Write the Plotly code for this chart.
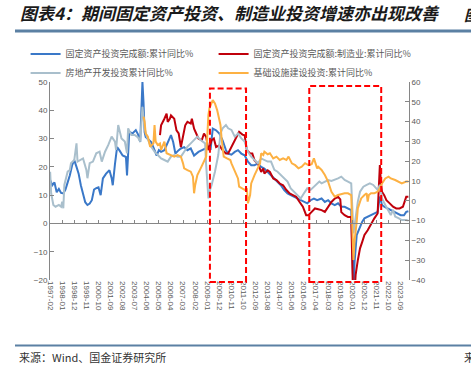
import plotly.graph_objects as go

# ---------------- data ----------------
tick_labels = ["1997-02", "1998-01", "1998-12", "1999-11", "2000-10", "2001-09", "2002-08",
               "2003-07", "2004-06", "2005-05", "2006-04", "2007-03", "2008-02", "2009-01",
               "2009-12", "2010-11", "2011-10", "2012-09", "2013-08", "2014-07", "2015-06",
               "2016-05", "2017-04", "2018-03", "2019-02", "2020-01", "2020-12", "2021-11",
               "2022-10", "2023-09"]

fai_dates = ["1997-02", "1997-04", "1997-06", "1997-08", "1997-10", "1997-12", "1998-02", "1998-04",
             "1998-06", "1998-08", "1998-10", "1998-12", "1999-02", "1999-04", "1999-06", "1999-08",
             "1999-10", "1999-12", "2000-02", "2000-04", "2000-06", "2000-08", "2000-10", "2000-12",
             "2001-02", "2001-05", "2001-08", "2001-10", "2001-11", "2002-01", "2002-03", "2002-05",
             "2002-08", "2002-11", "2002-12", "2003-02", "2003-05", "2003-08", "2003-10", "2003-12",
             "2004-02", "2004-03", "2004-04", "2004-05", "2004-07", "2004-10", "2005-01", "2005-03",
             "2005-05", "2005-07", "2005-10", "2006-01", "2006-04", "2006-06", "2006-08", "2006-11",
             "2007-01", "2007-04", "2007-07", "2007-10", "2008-01", "2008-05", "2008-08", "2008-11",
             "2009-02", "2009-04", "2009-06", "2009-09", "2009-12", "2010-03", "2010-06", "2010-08",
             "2010-11", "2011-02", "2011-05", "2011-08", "2011-11", "2012-02", "2012-05", "2012-08",
             "2012-11", "2013-02", "2013-05", "2013-08", "2013-11", "2014-02", "2014-05", "2014-08",
             "2014-11", "2015-02", "2015-05", "2015-08", "2015-11", "2016-02", "2016-05", "2016-08",
             "2016-11", "2017-02", "2017-05", "2017-09", "2017-12", "2018-03", "2018-06", "2018-09",
             "2018-12", "2019-03", "2019-06", "2019-09", "2019-12", "2020-02", "2020-03", "2020-05",
             "2020-08", "2020-10", "2020-12", "2021-03", "2021-06", "2021-09", "2021-12", "2022-02",
             "2022-04", "2022-06", "2022-09", "2022-12", "2023-03", "2023-06", "2023-09", "2023-12",
             "2024-02", "2024-04"]
fai_values = [15.3, 13.5, 14.5, 11.0, 12.2, 10.8, 10.6, 12.0,
              14.5, 17.0, 20.5, 22.4, 20.0, 17.6, 13.5, 10.0,
              7.5, 6.5, 7.0, 8.2, 12.0, 12.5, 12.8, 10.0,
              15.9, 17.6, 18.8, 16.0, 13.5, 21.0, 27.0, 25.9,
              24.0, 23.5, 17.0, 32.4, 31.8, 33.0, 31.5, 28.8,
              50.0, 42.9, 32.3, 30.6, 30.0, 28.8, 25.9, 24.0,
              25.9, 25.3, 25.9, 28.8, 31.2, 28.8, 24.7, 25.9,
              26.5, 27.0, 25.9, 26.5, 24.0, 25.3, 25.9, 26.5,
              27.0, 26.0, 33.5, 32.9, 31.8, 29.4, 25.9, 24.7,
              24.3, 25.3, 25.9, 24.7, 24.1, 21.8, 20.6, 20.6,
              21.2, 20.0, 19.4, 18.2, 17.0, 15.9, 14.7, 13.5,
              11.8, 10.6, 10.0, 9.4, 8.8, 8.2, 7.6, 7.1,
              8.2, 8.8, 8.2, 8.8, 7.6, 8.2, 7.1, 6.5,
              7.1, 5.9, 5.9, 5.3, 4.7, -24.5, -14.0, -4.1,
              -1.2, 0.6, 1.8, 2.3, 2.9, 3.5, 4.1, 9.5,
              6.5, 5.9, 5.3, 4.7, 4.1, 3.5, 2.9, 2.9,
              4.1, 4.3]

mfg_dates = ["2005-06", "2005-07", "2005-10", "2005-12", "2006-01", "2006-03", "2006-04", "2006-07",
             "2006-09", "2006-11", "2007-01", "2007-03", "2007-05", "2007-07", "2007-10", "2007-11",
             "2008-01", "2008-03", "2008-05", "2008-08", "2008-10", "2008-12", "2009-02", "2009-05",
             "2009-07", "2009-09", "2009-12", "2010-03", "2010-06", "2010-08", "2010-11", "2011-02",
             "2011-05", "2011-06", "2011-09", "2011-11", "2012-01", "2012-04", "2012-06", "2012-08",
             "2012-11", "2013-02", "2013-04", "2013-05", "2013-08", "2013-10", "2014-01", "2014-04",
             "2014-07", "2014-10", "2015-01", "2015-04", "2015-07", "2015-10", "2016-01", "2016-04",
             "2016-07", "2016-09", "2016-12", "2017-03", "2017-06", "2017-09", "2017-12", "2018-03",
             "2018-06", "2018-09", "2018-12", "2019-02", "2019-03", "2019-06", "2019-09", "2019-12",
             "2020-02", "2020-03", "2020-04", "2020-06", "2020-08", "2020-10", "2020-12", "2021-03",
             "2021-06", "2021-09", "2021-12", "2022-02", "2022-03", "2022-04", "2022-06", "2022-08",
             "2022-11", "2023-02", "2023-05", "2023-08", "2023-11", "2024-02", "2024-04"]
mfg_values = [31.2, 34.7, 37.0, 38.8, 35.9, 37.0, 38.2, 37.0,
              32.9, 31.8, 27.0, 30.6, 34.7, 35.9, 35.3, 37.0,
              33.5, 31.8, 30.0, 29.4, 31.8, 30.6, 25.9, 29.4,
              30.0, 27.0, 27.6, 25.9, 24.7, 24.7, 27.0, 29.4,
              31.8, 32.4, 31.4, 31.2, 25.9, 24.7, 24.7, 22.3,
              21.2, 18.2, 19.4, 17.6, 18.8, 18.2, 15.9, 15.3,
              14.1, 13.5, 11.8, 10.6, 10.0, 9.4, 7.6, 5.9,
              2.9, 2.9, 4.1, 5.3, 5.0, 4.7, 4.1, 5.9,
              7.6, 8.8, 9.4, 8.5, 4.0, 2.9, 2.3, 2.3,
              -31.5, -25.0, -18.2, -13.0, -8.8, -6.5, -4.1, -2.4,
              0.0, 1.8, 3.5, 20.6, 14.7, 11.2, 10.0, 8.2,
              7.1, 5.9, 5.3, 5.3, 5.9, 9.4, 9.4]

re_dates = ["1997-02", "1997-03", "1997-05", "1997-07", "1997-10", "1997-12", "1998-01", "1998-02",
            "1998-03", "1998-05", "1998-06", "1998-08", "1998-09", "1998-12", "1999-02", "1999-03",
            "1999-05", "1999-08", "1999-11", "1999-12", "2000-02", "2000-05", "2000-08", "2000-11",
            "2001-01", "2001-04", "2001-07", "2001-10", "2002-01", "2002-02", "2002-04", "2002-07",
            "2002-10", "2002-12", "2003-01", "2003-04", "2003-07", "2003-10", "2003-12", "2004-02",
            "2004-04", "2004-06", "2004-09", "2005-01", "2005-04", "2005-07", "2005-10", "2006-01",
            "2006-04", "2006-07", "2006-10", "2007-01", "2007-04", "2007-07", "2007-10", "2008-01",
            "2008-04", "2008-07", "2008-11", "2008-12", "2009-02", "2009-03", "2009-05", "2009-08",
            "2009-11", "2010-01", "2010-03", "2010-06", "2010-08", "2010-11", "2011-02", "2011-05",
            "2011-08", "2011-11", "2012-02", "2012-05", "2012-08", "2012-11", "2013-02", "2013-05",
            "2013-08", "2013-11", "2014-02", "2014-05", "2014-08", "2014-11", "2015-02", "2015-05",
            "2015-08", "2015-11", "2016-02", "2016-05", "2016-08", "2016-11", "2017-02", "2017-05",
            "2017-07", "2017-09", "2017-12", "2018-03", "2018-06", "2018-09", "2018-12", "2019-03",
            "2019-06", "2019-09", "2019-12", "2020-02", "2020-04", "2020-06", "2020-08", "2020-11",
            "2021-02", "2021-05", "2021-08", "2021-11", "2021-12", "2022-02", "2022-04", "2022-07",
            "2022-10", "2022-12", "2023-02", "2023-04", "2023-07", "2023-10", "2024-02", "2024-04"]
re_values = [14.7, 3.8, -2.1, -3.0, -2.1, -3.0, -0.4, -3.8,
             8.0, 13.0, 14.7, 15.6, 19.0, 20.6, 29.0, 19.8,
             20.6, 21.4, 15.6, 11.4, 19.0, 19.8, 24.0, 24.8,
             19.8, 24.8, 28.2, 32.4, 29.9, 25.7, 38.3, 31.5,
             29.9, 24.0, 36.6, 33.2, 33.2, 32.0, 29.9, 47.5,
             36.6, 32.4, 28.2, 24.8, 23.1, 21.4, 20.6, 19.8,
             22.3, 23.1, 22.3, 22.3, 24.8, 27.3, 29.0, 30.7,
             32.4, 30.7, 29.0, 18.0, 1.2, 4.6, 8.0, 14.7,
             23.1, 34.0, 36.6, 38.3, 36.6, 35.8, 32.4, 34.0,
             31.5, 29.9, 24.8, 22.3, 20.6, 18.9, 21.4, 20.6,
             19.8, 19.8, 15.6, 14.7, 13.0, 11.3, 9.7, 6.3,
             4.6, 2.9, 1.2, 3.8, 6.3, 5.5, 7.1, 8.8,
             9.7, 8.8, 9.7, 10.5, 10.0, 10.5, 11.3, 12.2,
             10.5, 9.7, 8.8, -16.4, -7.2, -0.4, 4.6, 7.1,
             8.0, 8.8, 8.0, 6.3, 5.5, 8.0, 1.2, -2.1,
             -5.5, -7.2, -4.6, -8.0, -8.8, -9.7, -9.7, -10.0]

infra_dates = ["2004-03", "2004-04", "2004-05", "2004-07", "2004-09", "2004-12", "2005-01", "2005-02",
               "2005-04", "2005-06", "2005-07", "2005-10", "2005-12", "2006-03", "2006-04", "2006-07",
               "2006-10", "2007-01", "2007-03", "2007-04", "2007-07", "2007-10", "2007-12", "2008-01",
               "2008-02", "2008-04", "2008-07", "2008-10", "2008-12", "2009-02", "2009-03", "2009-06",
               "2009-08", "2009-10", "2010-01", "2010-02", "2010-04", "2010-07", "2010-10", "2010-11",
               "2011-02", "2011-05", "2011-06", "2011-09", "2011-11", "2012-01", "2012-02", "2012-04",
               "2012-05", "2012-08", "2012-11", "2013-01", "2013-02", "2013-04", "2013-05", "2013-08",
               "2013-10", "2014-01", "2014-04", "2014-07", "2014-10", "2015-01", "2015-03", "2015-06",
               "2015-09", "2015-12", "2016-03", "2016-06", "2016-09", "2016-12", "2017-02", "2017-04",
               "2017-05", "2017-06", "2017-09", "2017-12", "2018-03", "2018-06", "2018-09", "2018-12",
               "2019-03", "2019-06", "2019-09", "2019-12", "2020-02", "2020-03", "2020-05", "2020-06",
               "2020-08", "2020-09", "2020-12", "2021-02", "2021-03", "2021-04", "2021-06", "2021-09",
               "2021-12", "2022-02", "2022-04", "2022-07", "2022-10", "2022-12", "2023-04", "2023-07",
               "2023-10", "2024-02", "2024-04"]
infra_values = [42.5, 40.0, 34.0, 32.4, 27.3, 29.0, 38.3, 29.9,
                28.2, 29.0, 25.7, 29.9, 24.0, 23.1, 23.1, 22.3,
                23.1, 22.3, 18.9, 16.4, 15.5, 14.7, 12.2, 3.8,
                8.0, 13.0, 16.4, 19.8, 22.3, 43.3, 46.7, 50.9,
                49.2, 45.8, 38.3, 31.5, 22.3, 21.4, 20.6, 18.9,
                14.7, 11.3, 7.1, 6.3, 5.5, 6.3, -1.3, 2.9,
                8.8, 13.0, 16.4, 18.9, 24.0, 23.1, 24.8, 23.5,
                24.0, 21.4, 22.3, 20.6, 21.4, 20.6, 22.3, 18.9,
                18.0, 16.4, 17.2, 19.0, 18.0, 18.5, 21.4, 17.5,
                16.4, 17.2, 15.6, 13.0, 9.7, 4.6, 2.1, 2.9,
                3.3, 3.8, 3.8, 2.9, -29.9, -20.6, -10.5, -3.8,
                -0.4, 1.2, 2.9, 3.8, -0.4, 2.9, 3.8, 3.8,
                4.6, 6.3, 8.8, 11.3, 12.2, 11.3, 10.5, 9.7,
                8.8, 9.7, 9.7]

series_names = ["固定资产投资完成额:累计同比%", "固定资产投资完成额:制造业:累计同比%",
                "房地产开发投资累计同比%", "基础设施建设投资:累计同比%"]
series_colors = ["#3a78c8", "#c0000b", "#a9bfcc", "#fdb143"]

# highlighted periods (red dashed boxes)
box_starts = ["2009-03-15", "2016-09-25"]
box_ends = ["2011-12-10", "2022-03-10"]
box_tops = [0.967, 0.980]

x_range = ["1997-01-28", "2024-04-18"]

# ---------------- figure ----------------
fig = go.Figure()
series = [(fai_dates, fai_values, "y", "legend"), (mfg_dates, mfg_values, "y", "legend2"),
          (re_dates, re_values, "y2", "legend"), (infra_dates, infra_values, "y2", "legend2")]
for (xd, yd, ax, lg), name, col in zip(series, series_names, series_colors):
    fig.add_trace(go.Scatter(x=xd, y=yd, name=name, yaxis=ax, legend=lg, mode="lines",
                             line=dict(color=col, width=2), hoverinfo="skip"))

# helper trace so the zero-line axis (x2) is drawn
fig.add_trace(go.Scatter(x=[tick_labels[0], tick_labels[-1]], y=[0, 0], xaxis="x2", yaxis="y",
                         mode="lines", line=dict(width=0, color="rgba(0,0,0,0)"),
                         showlegend=False, hoverinfo="skip"))

axis_grey = "#868686"
tick_font = dict(family="Liberation Sans, Arial, sans-serif", size=8, color="#595959")
legend_font = dict(family="Noto Sans CJK SC, sans-serif", size=9, color="#595959")

shapes = []
for x0, x1, top in zip(box_starts, box_ends, box_tops):
    shapes.append(dict(type="rect", xref="x", yref="paper", x0=x0, x1=x1, y0=-0.01, y1=top,
                       line=dict(color="#ff0000", width=2, dash="6px,3px"),
                       fillcolor="rgba(0,0,0,0)"))
# header / footer rules
shapes.append(dict(type="line", xref="paper", yref="paper", x0=-0.0975, x1=1.18, y0=1.2576, y1=1.2576,
                   line=dict(color="#5b80a3", width=3)))
shapes.append(dict(type="line", xref="paper", yref="paper", x0=-0.0975, x1=1.18, y0=-0.331, y1=-0.331,
                   line=dict(color="#5b80a3", width=2)))

fig.update_layout(
    width=471, height=365,
    margin=dict(l=50, r=62, t=82, b=85),
    paper_bgcolor="white", plot_bgcolor="white",
    font=dict(family="Noto Sans CJK SC, sans-serif", color="#404040"),
    title=dict(text="<b><i>图表4：期间固定资产投资、制造业投资增速亦出现改善</i></b>",
               xref="container", yref="container", x=20 / 471, y=1 - 14 / 365,
               xanchor="left", yanchor="middle",
               font=dict(family="Noto Sans CJK SC, sans-serif", size=17, color="#1a1a1a")),
    xaxis=dict(type="date", range=x_range, tickvals=tick_labels, ticktext=tick_labels,
               tickangle=90, showline=False, ticks="", showgrid=False, zeroline=False,
               tickfont=tick_font),
    xaxis2=dict(type="date", range=x_range, overlaying="x", anchor="free", position=20 / 70,
                tickvals=tick_labels, showticklabels=False, ticks="inside", ticklen=3,
                tickcolor=axis_grey, showline=True, linecolor=axis_grey, linewidth=1,
                showgrid=False, zeroline=False),
    yaxis=dict(range=[-20, 50], dtick=10, showline=True, linecolor=axis_grey, linewidth=1,
               ticks="inside", ticklen=4, tickcolor=axis_grey, showgrid=False, zeroline=False,
               tickfont=tick_font),
    yaxis2=dict(range=[-40, 60], dtick=10, overlaying="y", side="right", showline=True,
                linecolor=axis_grey, linewidth=1, ticks="inside", ticklen=4, tickcolor=axis_grey,
                showgrid=False, zeroline=False, tickfont=tick_font),
    legend=dict(orientation="v", x=-0.068, y=1.215, xanchor="left", yanchor="top",
                itemwidth=30, font=legend_font, bgcolor="rgba(0,0,0,0)", tracegroupgap=0),
    legend2=dict(orientation="v", x=0.4557, y=1.215, xanchor="left", yanchor="top",
                 itemwidth=30, font=legend_font, bgcolor="rgba(0,0,0,0)", tracegroupgap=0),
    shapes=shapes,
    annotations=[
        dict(text="来源：Wind、国金证券研究所", xref="paper", yref="paper", x=-0.092, y=-0.389,
             xanchor="left", yanchor="middle", showarrow=False,
             font=dict(family="Noto Sans CJK SC, sans-serif", size=11, color="#333333")),
        dict(text="来", xref="paper", yref="paper", x=(462 - 50) / 359, y=-0.389,
             xanchor="left", yanchor="middle", showarrow=False,
             font=dict(family="Noto Sans CJK SC, sans-serif", size=11, color="#333333")),
        dict(text="<b><i>图</i></b>", xref="paper", yref="paper", x=(462 - 50) / 359,
             y=(280 - 14) / 198, xanchor="left", yanchor="middle", showarrow=False,
             font=dict(family="Noto Sans CJK SC, sans-serif", size=15, color="#1a1a1a")),
    ],
)

# remove the browser's default 8px body margin so the figure sits at the page origin
fig.write_html("out.html", config={"displayModeBar": False},
               post_script="document.body.style.margin='0px';")
